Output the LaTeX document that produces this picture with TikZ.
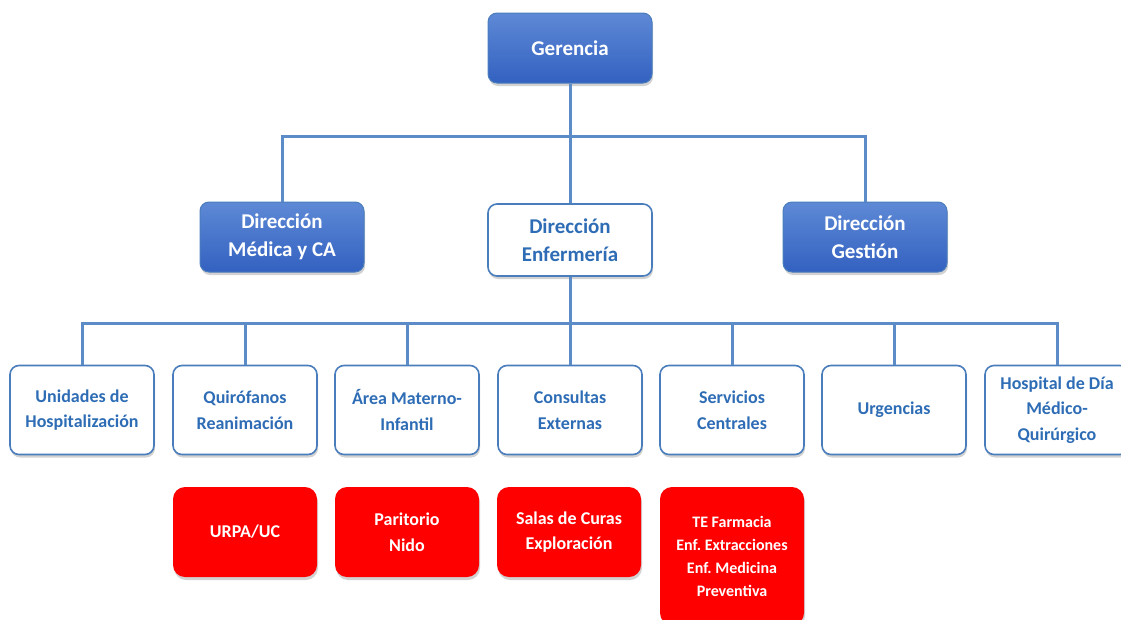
\documentclass[tikz,border=0pt]{standalone}
\usepackage{fontspec}
\setmainfont{Carlito}
\usetikzlibrary{shadows}
\frenchspacing
\definecolor{lineblue}{HTML}{5B8CC8}
\definecolor{txtblue}{HTML}{2E6DB5}
\definecolor{bordblue}{HTML}{4A7DBB}
\definecolor{topA}{HTML}{5E89D6}
\definecolor{topB}{HTML}{3361C0}
\definecolor{redbox}{HTML}{FF0000}
\begin{document}
\begin{tikzpicture}[x=1pt,y=-1pt,
  base/.style={rounded corners=9pt, align=center, inner sep=0pt,
    drop shadow={shadow xshift=1pt,shadow yshift=-3pt,opacity=0.35}},
  bluebox/.style={base, draw=bordblue, line width=1pt, top color=topA, bottom color=topB,
    text=white, minimum width=164pt, minimum height=70pt,
    font=\fontsize{21}{28}\selectfont\bfseries},
  whitetop/.style={base, draw=bordblue, line width=1.6pt, fill=white,
    text=txtblue, minimum width=164pt, minimum height=72pt,
    font=\fontsize{21}{28}\selectfont\bfseries},
  unitbox/.style={base, draw=bordblue, line width=1.6pt, fill=white,
    text=txtblue, minimum width=144pt, minimum height=89pt,
    font=\fontsize{18}{25.5}\selectfont\bfseries},
  redb/.style={base, rounded corners=12pt, fill=redbox, text=white,
    minimum width=144pt, minimum height=90pt,
    font=\fontsize{18}{25.5}\selectfont\bfseries},
  conn/.style={draw=lineblue, line width=3pt}
]
\useasboundingbox (0,0) rectangle (1121,619);
\fill[white] (0,0) rectangle (1121,619);

% top levels
\node[bluebox] (ger) at (570,48) {Gerencia};
\node[bluebox] (med) at (282,237) {Dirección\\Médica y CA};
\node[whitetop] (enf) at (570,240) {Dirección\\Enfermería};
\node[bluebox] (ges) at (865,237) {Dirección\\Gestión};

% units
\node[unitbox] (uni) at (82,410) {Unidades de\\Hospitalización};
\node[unitbox] (qui) at (245,410) {Quirófanos\\Reanimación};
\node[unitbox] (are) at (407,410) {Área Materno-\\Infantil};
\node[unitbox] (con) at (570,410) {Consultas\\Externas};
\node[unitbox] (ser) at (732,410) {Servicios\\Centrales};
\node[unitbox] (urg) at (894,410) {Urgencias};
\node[unitbox] (hos) at (1057,410) {Hospital de Día\\Médico-\\Quirúrgico};

% red boxes
\node[redb] (urp) at (245,532) {URPA/UC};
\node[redb] (par) at (407,532) {Paritorio\\Nido};
\node[redb] (sal) at (569,532) {Salas de Curas\\Exploración};
\node[redb, minimum height=138pt, font=\fontsize{16}{23}\selectfont\bfseries] (tef) at (732,556)
  {TE Farmacia\\Enf. Extracciones\\Enf. Medicina\\Preventiva};

% connectors
\coordinate (bus1) at (570,136);
\coordinate (bus2) at (570,323);
\draw[conn] (ger.south) -- (enf.north);
\draw[conn] (med.north) |- (bus1) -| (ges.north);
\draw[conn] (enf.south) -- (con.north);
\draw[conn] (uni.north) |- (bus2) -| (hos.north);
\draw[conn] (qui.north) -- (qui.north |- bus2);
\draw[conn] (are.north) -- (are.north |- bus2);
\draw[conn] (ser.north) -- (ser.north |- bus2);
\draw[conn] (urg.north) -- (urg.north |- bus2);
\end{tikzpicture}
\end{document}
